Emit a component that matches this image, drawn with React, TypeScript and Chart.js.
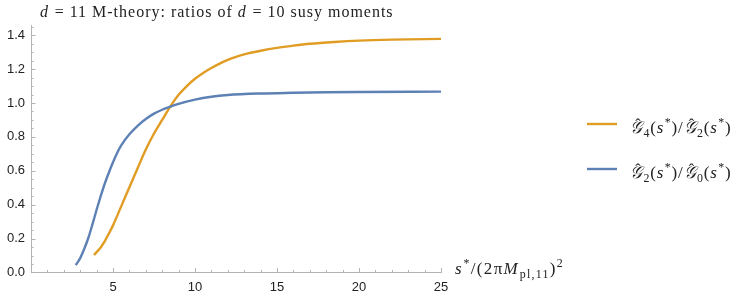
import React, { useEffect, useRef } from "react";
import { Chart, registerables } from "chart.js";

Chart.register(...registerables);

// Data
const blueX = [2.73, 3.0, 3.25, 3.5, 3.75, 4.0, 4.25, 4.5, 4.75, 5.0, 5.25, 5.5, 6.0, 6.5, 7.0, 7.5, 8.0, 8.5, 9.0, 10, 11, 12, 14, 16, 18, 20, 25];
const blueY = [0.044, 0.085, 0.14, 0.205, 0.285, 0.37, 0.45, 0.525, 0.59, 0.65, 0.705, 0.75, 0.815, 0.865, 0.905, 0.937, 0.96, 0.978, 0.995, 1.02, 1.037, 1.047, 1.056, 1.06, 1.063, 1.065, 1.067];
const orangeX = [3.84, 4.0, 4.25, 4.5, 4.75, 5.0, 5.5, 6.0, 6.5, 7.0, 7.5, 8.0, 8.5, 9.0, 9.5, 10, 10.5, 11, 11.5, 12, 12.5, 13, 14, 15, 16, 17, 18.5, 20, 22, 25];
const orangeY = [0.103, 0.12, 0.148, 0.185, 0.23, 0.278, 0.39, 0.503, 0.615, 0.725, 0.82, 0.9, 0.98, 1.048, 1.1, 1.143, 1.177, 1.206, 1.232, 1.254, 1.272, 1.287, 1.308, 1.325, 1.338, 1.349, 1.36, 1.368, 1.374, 1.378];
const xTickLabels = ["5", "10", "15", "20", "25"];
const yTickLabels = ["0.0", "0.2", "0.4", "0.6", "0.8", "1.0", "1.2", "1.4"];

const ORANGE = "#E19C24";
const BLUE = "#5E81B5";
const AXIS = "#b3b3b3";
const SERIF = "'Liberation Serif', 'DejaVu Serif', serif";
const SANS = "'Liberation Sans', Arial, sans-serif";

type Seg = { t: string; it?: boolean; sub?: boolean; sup?: boolean; hat?: boolean };

function drawRich(ctx: CanvasRenderingContext2D, segs: Seg[], x: number, baseline: number, size: number, color: string, spacing: number) {
  let cx = x;
  ctx.save();
  ctx.fillStyle = color;
  ctx.textAlign = "left";
  ctx.textBaseline = "alphabetic";
  (ctx as any).letterSpacing = `${spacing}px`;
  for (const s of segs) {
    const sz = s.sub || s.sup ? size * 0.7 : size;
    ctx.font = `${s.it ? "italic " : ""}${sz}px ${SERIF}`;
    const dy = s.sub ? size * 0.24 : s.sup ? -size * 0.4 : 0;
    ctx.fillText(s.t, cx, baseline + dy);
    const w = ctx.measureText(s.t).width;
    if (s.hat) {
      ctx.font = `${size * 0.95}px ${SERIF}`;
      ctx.textAlign = "center";
      ctx.fillText("\u02C6", cx + w / 2 + size * 0.12, baseline - size * 0.16);
      ctx.textAlign = "left";
    }
    cx += w + (s.it ? size * 0.04 : 0);
  }
  ctx.restore();
}

const titleSegs: Seg[] = [
  { t: "d", it: true },
  { t: " = 11 M-theory: ratios of " },
  { t: "d", it: true },
  { t: " = 10 susy moments" },
];
const legend1: Seg[] = [
  { t: "\uD835\uDCA2", it: true, hat: true }, { t: "4", sub: true }, { t: "(" }, { t: "s", it: true }, { t: "*", sup: true }, { t: ")/" },
  { t: "\uD835\uDCA2", it: true, hat: true }, { t: "2", sub: true }, { t: "(" }, { t: "s", it: true }, { t: "*", sup: true }, { t: ")" },
];
const legend2: Seg[] = [
  { t: "\uD835\uDCA2", it: true, hat: true }, { t: "2", sub: true }, { t: "(" }, { t: "s", it: true }, { t: "*", sup: true }, { t: ")/" },
  { t: "\uD835\uDCA2", it: true, hat: true }, { t: "0", sub: true }, { t: "(" }, { t: "s", it: true }, { t: "*", sup: true }, { t: ")" },
];
const xLabel: Seg[] = [
  { t: "s", it: true }, { t: "*", sup: true }, { t: "/(2\u03C0" }, { t: "M", it: true }, { t: "pl,11", sub: true }, { t: ")" }, { t: "2", sup: true },
];

const decorPlugin = {
  id: "decor",
  afterDraw(chart: any) {
    const ctx: CanvasRenderingContext2D = chart.ctx;
    const xs = chart.scales.x;
    const ys = chart.scales.y;
    const { left, bottom } = chart.chartArea;
    ctx.save();
    ctx.strokeStyle = AXIS;
    ctx.lineWidth = 1;
    ctx.beginPath();
    for (let v = 1; v <= 25; v++) {
      const px = Math.round(xs.getPixelForValue(v)) + 0.5;
      const len = v % 5 === 0 ? 4.5 : 2.5;
      ctx.moveTo(px, bottom);
      ctx.lineTo(px, bottom - len);
    }
    for (let i = 1; i <= 29; i++) {
      const py = Math.round(ys.getPixelForValue(i * 0.05)) + 0.5;
      const len = i % 4 === 0 ? 4.5 : 2.5;
      ctx.moveTo(left, py);
      ctx.lineTo(left + len, py);
    }
    ctx.stroke();
    ctx.restore();

    drawRich(ctx, titleSegs, 40, 16.5, 16, "#222", 1);
    drawRich(ctx, xLabel, 455, 274, 17, "#222", 1.3);

    ctx.save();
    ctx.lineWidth = 2.4;
    ctx.strokeStyle = ORANGE;
    ctx.beginPath();
    ctx.moveTo(587, 124);
    ctx.lineTo(617, 124);
    ctx.stroke();
    ctx.strokeStyle = BLUE;
    ctx.beginPath();
    ctx.moveTo(587, 169);
    ctx.lineTo(617, 169);
    ctx.stroke();
    ctx.restore();
    drawRich(ctx, legend1, 630, 133, 17, "#222", 0.8);
    drawRich(ctx, legend2, 630, 178, 17, "#222", 0.8);
  },
};

export default function App() {
  const ref = useRef<HTMLCanvasElement | null>(null);
  useEffect(() => {
    if (!ref.current) return;
    const chart = new Chart(ref.current, {
      type: "scatter",
      data: {
        datasets: [
          {
            label: "G2/G0",
            data: blueX.map((x, i) => ({ x, y: blueY[i] })),
            borderColor: BLUE,
            backgroundColor: BLUE,
            borderWidth: 2.4,
            pointRadius: 0,
            showLine: true,
            cubicInterpolationMode: "monotone",
          },
          {
            label: "G4/G2",
            data: orangeX.map((x, i) => ({ x, y: orangeY[i] })),
            borderColor: ORANGE,
            backgroundColor: ORANGE,
            borderWidth: 2.4,
            pointRadius: 0,
            showLine: true,
            cubicInterpolationMode: "monotone",
          },
        ],
      },
      options: {
        animation: false,
        responsive: false,
        layout: { padding: { top: 25, right: 306, left: 0, bottom: 0 } },
        plugins: { legend: { display: false }, title: { display: false }, tooltip: { enabled: false } },
        scales: {
          x: {
            type: "linear",
            min: 0,
            max: 25,
            grid: { display: false, drawTicks: false },
            border: { display: true, color: AXIS, width: 1 },
            afterFit: (s: any) => { s.height = 26.5; },
            ticks: {
              stepSize: 5,
              padding: 7,
              maxRotation: 0,
              color: "#222",
              font: { family: SANS, size: 13 },
              callback: (v: any) => { const i = xTickLabels.indexOf(String(v)); return i >= 0 ? xTickLabels[i] : ""; },
            },
          },
          y: {
            type: "linear",
            min: 0,
            max: 1.46,
            grid: { display: false, drawTicks: false },
            border: { display: true, color: AXIS, width: 1 },
            afterFit: (s: any) => { s.width = 31; },
            ticks: {
              stepSize: 0.2,
              includeBounds: false,
              padding: 6,
              color: "#222",
              font: { family: SANS, size: 13 },
              callback: (v: any) => { const i = Math.round(Number(v) / 0.2); return Math.abs(Number(v) - i * 0.2) < 1e-6 && yTickLabels[i] ? yTickLabels[i] : ""; },
            },
          },
        },
      } as any,
      plugins: [decorPlugin],
    });
    return () => chart.destroy();
  }, []);
  return (
    <div style={{ position: "absolute", left: 0, top: 0, width: 747, height: 299, background: "#fff" }}>
      <canvas ref={ref} width={747} height={299} />
    </div>
  );
}
